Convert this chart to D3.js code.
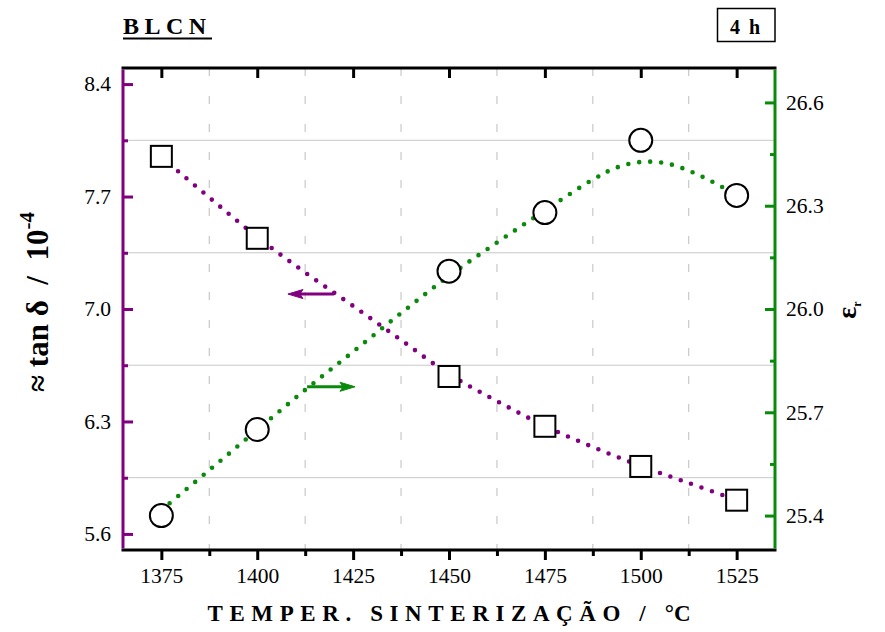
<!DOCTYPE html>
<html><head><meta charset="utf-8">
<script src="https://cdn.jsdelivr.net/npm/d3@7/dist/d3.min.js"></script>
<style>body{margin:0;background:#fff}svg{display:block}text{font-family:"Liberation Serif","Times New Roman",serif}</style>
</head><body>
<svg id="chart" width="885" height="632"></svg>
<script>
// ---- data ----
const temperatures = [1375, 1400, 1450, 1475, 1500, 1525];
const tanDelta = [7.95, 7.44, 6.58, 6.27, 6.02, 5.81];
const permittivity = [25.40, 25.65, 26.11, 26.28, 26.49, 26.33];
const tanFitT = [1375, 1387.5, 1400, 1412.5, 1425, 1437.5, 1450, 1462.5, 1475, 1487.5, 1500, 1512.5, 1525];
const tanFitV = [7.946, 7.694, 7.448, 7.227, 7.019, 6.807, 6.595, 6.427, 6.272, 6.141, 6.023, 5.917, 5.811];
const epsFitT = [1375, 1387.5, 1400, 1412.5, 1425, 1437.5, 1450, 1462.5, 1475, 1487.5, 1493.75, 1500, 1506.25, 1512.5, 1518.75, 1525];
const epsFitV = [25.416, 25.532, 25.649, 25.765, 25.876, 25.988, 26.096, 26.193, 26.286, 26.376, 26.411, 26.427, 26.424, 26.402, 26.369, 26.331];
const xTickValues = [1375, 1400, 1425, 1450, 1475, 1500, 1525];
const xMinorValues = [1387.5, 1412.5, 1437.5, 1462.5, 1487.5, 1512.5];
const leftTickValues = [5.6, 6.3, 7.0, 7.7, 8.4];
const leftMinorValues = [5.95, 6.65, 7.35, 8.05];
const rightTickValues = [25.4, 25.7, 26.0, 26.3, 26.6];
const rightMinorValues = [25.55, 25.85, 26.15, 26.45];
const arrowTan = {from: [1420, 7.093], to: [1408, 7.093]};
const arrowEps = {from: [1413, 25.774], to: [1425.5, 25.774]};

const PURPLE = "#800080", GREEN = "#0a8a0a";
const svg = d3.select("#chart");
const L = 123, R = 775, T = 68, B = 550;
const x = d3.scaleLinear().domain([1365, 1535]).range([L, R]);
const yL = d3.scaleLinear().domain([5.5, 8.5]).range([B, T]);
const yR = d3.scaleLinear().domain([25.3, 26.7]).range([B, T]);

// grid
svg.append("g").selectAll("line").data(leftMinorValues).join("line")
  .attr("x1", L).attr("x2", R).attr("y1", d => yL(d)).attr("y2", d => yL(d))
  .attr("stroke", "#c8c8c8").attr("stroke-width", 1);
svg.append("g").selectAll("line").data(xMinorValues).join("line")
  .attr("x1", d => x(d)).attr("x2", d => x(d)).attr("y1", T).attr("y2", B)
  .attr("stroke", "#c8c8c8").attr("stroke-width", 1.2).attr("stroke-dasharray", "8 20");

// fit curves
const lineL = d3.line().x(d => x(d[0])).y(d => yL(d[1])).curve(d3.curveCatmullRom);
const lineR = d3.line().x(d => x(d[0])).y(d => yR(d[1])).curve(d3.curveCatmullRom);
svg.append("path").attr("d", lineL(d3.zip(tanFitT, tanFitV)))
  .attr("fill", "none").attr("stroke", PURPLE).attr("stroke-width", 4.6)
  .attr("stroke-linecap", "round").attr("stroke-dasharray", "0 11");
svg.append("path").attr("d", lineR(d3.zip(epsFitT, epsFitV)))
  .attr("fill", "none").attr("stroke", GREEN).attr("stroke-width", 4.6)
  .attr("stroke-linecap", "round").attr("stroke-dasharray", "0 11");

// markers
const sq = 21;
svg.append("g").selectAll("rect").data(d3.zip(temperatures, tanDelta)).join("rect")
  .attr("x", d => x(d[0]) - sq / 2).attr("y", d => yL(d[1]) - sq / 2)
  .attr("width", sq).attr("height", sq)
  .attr("fill", "#fff").attr("stroke", "#000").attr("stroke-width", 2);
svg.append("g").selectAll("circle").data(d3.zip(temperatures, permittivity)).join("circle")
  .attr("cx", d => x(d[0])).attr("cy", d => yR(d[1])).attr("r", 11.5)
  .attr("fill", "#fff").attr("stroke", "#000").attr("stroke-width", 2);

// arrows
function arrow(a, ys, color) {
  const x1 = x(a.from[0]), x2 = x(a.to[0]), yy = ys(a.from[1]);
  const dir = Math.sign(x2 - x1);
  svg.append("line").attr("x1", x1).attr("x2", x2 - dir * 10).attr("y1", yy).attr("y2", yy)
    .attr("stroke", color).attr("stroke-width", 3);
  svg.append("path").attr("d", `M${x2},${yy}L${x2 - dir * 15},${yy - 4.5}L${x2 - dir * 12},${yy}L${x2 - dir * 15},${yy + 4.5}Z`)
    .attr("fill", color).attr("stroke", color).attr("stroke-width", 1);
}
arrow(arrowTan, yL, PURPLE);
arrow(arrowEps, yR, GREEN);

// axes
const fs = "21.5px";
const gB = svg.append("g").attr("transform", `translate(0,${B})`)
  .call(d3.axisBottom(x).tickValues(xTickValues).tickSize(10).tickSizeOuter(0).tickPadding(8).tickFormat(d3.format("d")));
svg.append("g").attr("transform", `translate(0,${B})`)
  .call(d3.axisBottom(x).tickValues(xMinorValues).tickSize(6).tickSizeOuter(0).tickFormat(""));
svg.append("g").attr("transform", `translate(0,${T})`)
  .call(d3.axisTop(x).tickValues(xTickValues).tickSize(-10).tickSizeOuter(0).tickFormat(""));
const gL = svg.append("g").attr("class", "leftAxis").attr("transform", `translate(${L},0)`)
  .call(d3.axisLeft(yL).tickValues(leftTickValues).tickSize(-10).tickSizeOuter(0).tickPadding(12).tickFormat(d3.format(".1f")));
svg.append("g").attr("class", "leftAxis").attr("transform", `translate(${L},0)`)
  .call(d3.axisLeft(yL).tickValues(leftMinorValues).tickSize(-5).tickSizeOuter(0).tickFormat(""));
const gR = svg.append("g").attr("class", "rightAxis").attr("transform", `translate(${R},0)`)
  .call(d3.axisRight(yR).tickValues(rightTickValues).tickSize(-10).tickSizeOuter(0).tickPadding(11).tickFormat(d3.format(".1f")));
svg.append("g").attr("class", "rightAxis").attr("transform", `translate(${R},0)`)
  .call(d3.axisRight(yR).tickValues(rightMinorValues).tickSize(-5).tickSizeOuter(0).tickFormat(""));
svg.selectAll(".domain").remove();
svg.selectAll(".tick text").attr("font-size", fs).attr("font-family", "Liberation Serif").attr("fill", "#000");
svg.selectAll(".tick line").attr("stroke-width", 3);
svg.selectAll(".leftAxis .tick line").attr("stroke", PURPLE);
svg.selectAll(".rightAxis .tick line").attr("stroke", GREEN);
gB.selectAll(".tick text").attr("dy", "0.71em");

// frame
svg.append("line").attr("x1", L - 1.5).attr("x2", R + 1.5).attr("y1", T).attr("y2", T).attr("stroke", "#000").attr("stroke-width", 3);
svg.append("line").attr("x1", L - 1.5).attr("x2", R + 1.5).attr("y1", B).attr("y2", B).attr("stroke", "#000").attr("stroke-width", 3);
svg.append("line").attr("x1", L).attr("x2", L).attr("y1", T + 1.5).attr("y2", B - 1.5).attr("stroke", PURPLE).attr("stroke-width", 3);
svg.append("line").attr("x1", R).attr("x2", R).attr("y1", T + 1.5).attr("y2", B - 1.5).attr("stroke", GREEN).attr("stroke-width", 3);

// titles
svg.append("text").attr("x", 123).attr("y", 34).attr("font-size", 24).attr("font-weight", "bold")
  .attr("letter-spacing", "5.5px").text("BLCN");
svg.append("line").attr("x1", 123).attr("x2", 212).attr("y1", 38.5).attr("y2", 38.5).attr("stroke", "#000").attr("stroke-width", 2);
svg.append("rect").attr("x", 717.5).attr("y", 8.5).attr("width", 57.5).attr("height", 33).attr("fill", "none").attr("stroke", "#000").attr("stroke-width", 1.5);
svg.append("text").attr("x", 746).attr("y", 34).attr("text-anchor", "middle").attr("font-size", 20).attr("font-weight", "bold")
  .attr("letter-spacing", "2px").text("4 h");

const xt = svg.append("text").attr("x", 449).attr("y", 621).attr("text-anchor", "middle")
  .attr("font-size", 23).attr("font-weight", "bold").attr("letter-spacing", "6.6px");
xt.append("tspan").text("TEMPER. SINTERIZAÇÃO / ");
xt.append("tspan").attr("letter-spacing", "0px").text("°C");

const yt = svg.append("text").attr("transform", "translate(48,302) rotate(-90)").attr("text-anchor", "middle")
  .attr("font-size", 31).attr("font-weight", "bold").style("white-space", "pre");
yt.append("tspan").text("≈ tan δ  /  10");
yt.append("tspan").attr("dy", -14).attr("font-size", 21).text("-4");

const rt = svg.append("text").attr("transform", "translate(856,310) rotate(-90)").attr("text-anchor", "middle")
  .attr("font-size", 28).attr("font-weight", "bold");
rt.append("tspan").text("ε");
rt.append("tspan").attr("dy", 5).attr("font-size", 12).text("r");
</script>
</body></html>
